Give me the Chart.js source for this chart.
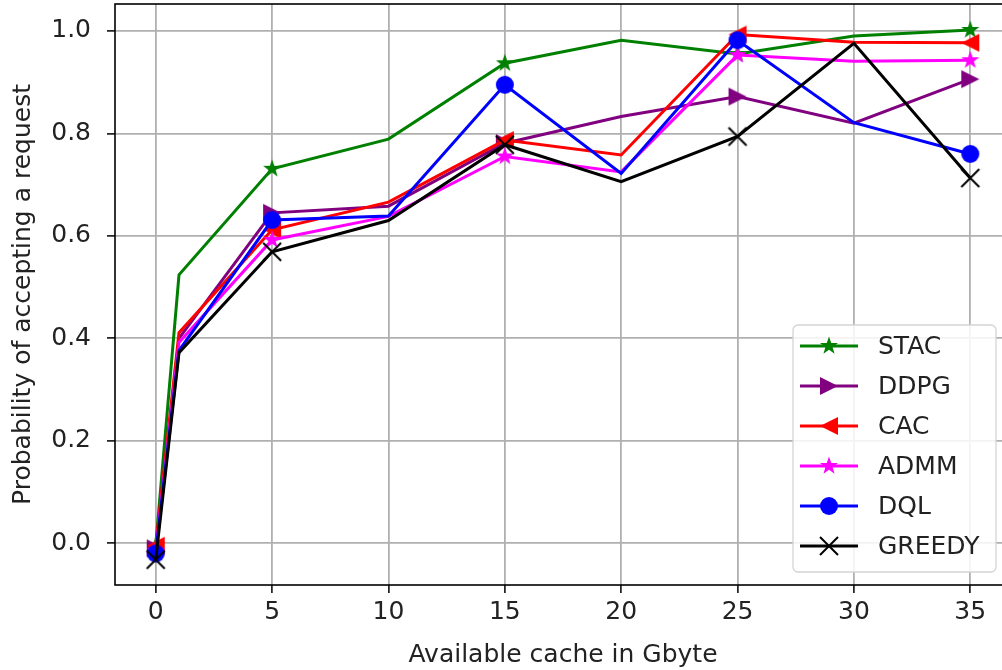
<!DOCTYPE html>
<html lang="en">
<head>
<meta charset="UTF-8">
<title>Probability of accepting a request</title>
<script src="https://cdn.jsdelivr.net/npm/chart.js@4.4.1/dist/chart.umd.min.js"></script>
<style>
  html, body { margin: 0; padding: 0; background: #fff; overflow: hidden; }
  #wrap { position: relative; width: 1016px; height: 670px; }
</style>
</head>
<body>
<div id="wrap"><canvas id="chart"></canvas></div>
<script>
// x positions (Gbyte) and values
const cacheGb = [0, 1, 5, 10, 15, 20, 25, 30, 35];
const stac   = [-0.005, 0.524, 0.731, 0.789, 0.937, 0.982, 0.955, 0.990, 1.002];
const ddpg   = [-0.010, 0.400, 0.645, 0.658, 0.781, 0.833, 0.872, 0.820, 0.906];
const cac    = [-0.005, 0.411, 0.612, 0.666, 0.787, 0.758, 0.993, 0.978, 0.977];
const admm   = [-0.015, 0.392, 0.592, 0.638, 0.755, 0.725, 0.953, 0.941, 0.943];
const dql    = [-0.020, 0.376, 0.631, 0.639, 0.895, 0.722, 0.982, 0.821, 0.760];
const greedy = [-0.032, 0.372, 0.569, 0.630, 0.778, 0.706, 0.794, 0.976, 0.713];

const seriesNames = ['STAC', 'DDPG', 'CAC', 'ADMM', 'DQL', 'GREEDY'];
const xTicks = [0, 5, 10, 15, 20, 25, 30, 35];
const yTicks = [0.0, 0.2, 0.4, 0.6, 0.8, 1.0];

const FONT = 'DejaVu Sans';
const MS = 18; // marker size in px

// matplotlib-like markers drawn on small canvases
function makeMarker(kind, color) {
  const c = document.createElement('canvas');
  const s = MS + 4;
  c.width = s; c.height = s;
  const g = c.getContext('2d');
  const m = s / 2, r = MS / 2;
  g.fillStyle = color;
  g.strokeStyle = color;
  g.beginPath();
  if (kind === 'star') {
    for (let i = 0; i < 10; i++) {
      const rr = i % 2 === 0 ? r * 1.05 : r * 0.42;
      const a = -Math.PI / 2 + i * Math.PI / 5;
      const px = m + rr * Math.cos(a), py = m + rr * Math.sin(a);
      i === 0 ? g.moveTo(px, py) : g.lineTo(px, py);
    }
    g.closePath(); g.fill();
  } else if (kind === 'right') {
    g.moveTo(m + r, m); g.lineTo(m - r, m - r); g.lineTo(m - r, m + r);
    g.closePath(); g.fill();
  } else if (kind === 'left') {
    g.moveTo(m - r, m); g.lineTo(m + r, m - r); g.lineTo(m + r, m + r);
    g.closePath(); g.fill();
  } else if (kind === 'circle') {
    g.arc(m, m, r, 0, Math.PI * 2); g.fill();
  } else if (kind === 'x') {
    g.lineWidth = 2;
    g.moveTo(m - r, m - r); g.lineTo(m + r, m + r);
    g.moveTo(m + r, m - r); g.lineTo(m - r, m + r);
    g.stroke();
  }
  return c;
}

// markers only on every second point
const markEvery = cacheGb.map((_, i) => (i % 2 === 0 ? 6 : 0));

function series(label, values, color, marker, order) {
  return {
    label: label,
    data: cacheGb.map((x, i) => ({ x: x, y: values[i] })),
    borderColor: color,
    backgroundColor: color,
    borderWidth: 3,
    pointStyle: makeMarker(marker, color),
    pointRadius: markEvery,
    pointHoverRadius: markEvery,
    tension: 0,
    order: order
  };
}

const datasets = [
  series(seriesNames[0], stac, '#008000', 'star', 5),
  series(seriesNames[1], ddpg, '#800080', 'right', 4),
  series(seriesNames[2], cac, '#ff0000', 'left', 3),
  series(seriesNames[3], admm, '#ff00ff', 'star', 2),
  series(seriesNames[4], dql, '#0000ff', 'circle', 1),
  series(seriesNames[5], greedy, '#000000', 'x', 0)
];

// axes frame + legend box in the lower right
const framePlugin = {
  id: 'frame',
  afterDatasetsDraw(chart) {
    const ctx = chart.ctx, a = chart.chartArea;
    ctx.save();
    ctx.strokeStyle = '#000';
    ctx.lineWidth = 1.6;
    ctx.strokeRect(a.left, a.top, a.right - a.left, a.bottom - a.top);

    const w = 203, h = 247;
    const left = a.right - 15 - w, top = a.bottom - 13 - h;
    ctx.fillStyle = 'rgba(255,255,255,0.85)';
    ctx.strokeStyle = '#d4d4d4';
    ctx.lineWidth = 1.3;
    ctx.beginPath();
    ctx.roundRect(left, top, w, h, 5);
    ctx.fill(); ctx.stroke();

    ctx.font = '25px "' + FONT + '"';
    ctx.textBaseline = 'middle';
    chart.data.datasets.forEach((ds, i) => {
      const y = top + 21 + i * 40;
      ctx.strokeStyle = ds.borderColor;
      ctx.lineWidth = 3;
      ctx.beginPath();
      ctx.moveTo(left + 7, y); ctx.lineTo(left + 65, y);
      ctx.stroke();
      const img = ds.pointStyle;
      ctx.drawImage(img, left + 36 - img.width / 2, y - img.height / 2);
      ctx.fillStyle = '#222';
      ctx.fillText(ds.label, left + 85, y + 1);
    });
    ctx.restore();
  }
};

Chart.defaults.font.family = FONT;
Chart.defaults.font.size = 25;
Chart.defaults.color = '#222';

new Chart(document.getElementById('chart'), {
  type: 'line',
  data: { datasets: datasets },
  options: {
    responsive: true,
    maintainAspectRatio: false,
    animation: false,
    layout: { autoPadding: false, padding: { top: 4, right: 5, left: 0, bottom: 0 } },
    plugins: { legend: { display: false }, tooltip: { enabled: false } },
    scales: {
      x: {
        type: 'linear',
        min: -1.75,
        max: 36.75,
        afterBuildTicks: axis => { axis.ticks = xTicks.map(v => ({ value: v })); },
        afterFit: axis => { axis.height = 85; axis.paddingLeft = 0; axis.paddingRight = 0; },
        ticks: { padding: 4, callback: v => String(v) },
        grid: { color: '#b0b0b0', lineWidth: 1.8, tickColor: '#000', tickLength: 8, tickWidth: 1.5 },
        border: { display: false },
        title: { display: true, text: 'Available cache in Gbyte', padding: { top: 0, bottom: 0 } }
      },
      y: {
        min: -0.0815,
        max: 1.0527,
        afterBuildTicks: axis => { axis.ticks = yTicks.map(v => ({ value: v })); },
        afterFit: axis => { axis.width = 115; axis.paddingTop = 0; axis.paddingBottom = 0; },
        ticks: { padding: 16, callback: v => v.toFixed(1) },
        grid: { color: '#b0b0b0', lineWidth: 1.8, tickColor: '#000', tickLength: 8, tickWidth: 1.5 },
        border: { display: false },
        title: { display: true, text: 'Probability of accepting a request', padding: { top: 8, bottom: 0 } }
      }
    }
  },
  plugins: [framePlugin]
});
</script>
</body>
</html>
